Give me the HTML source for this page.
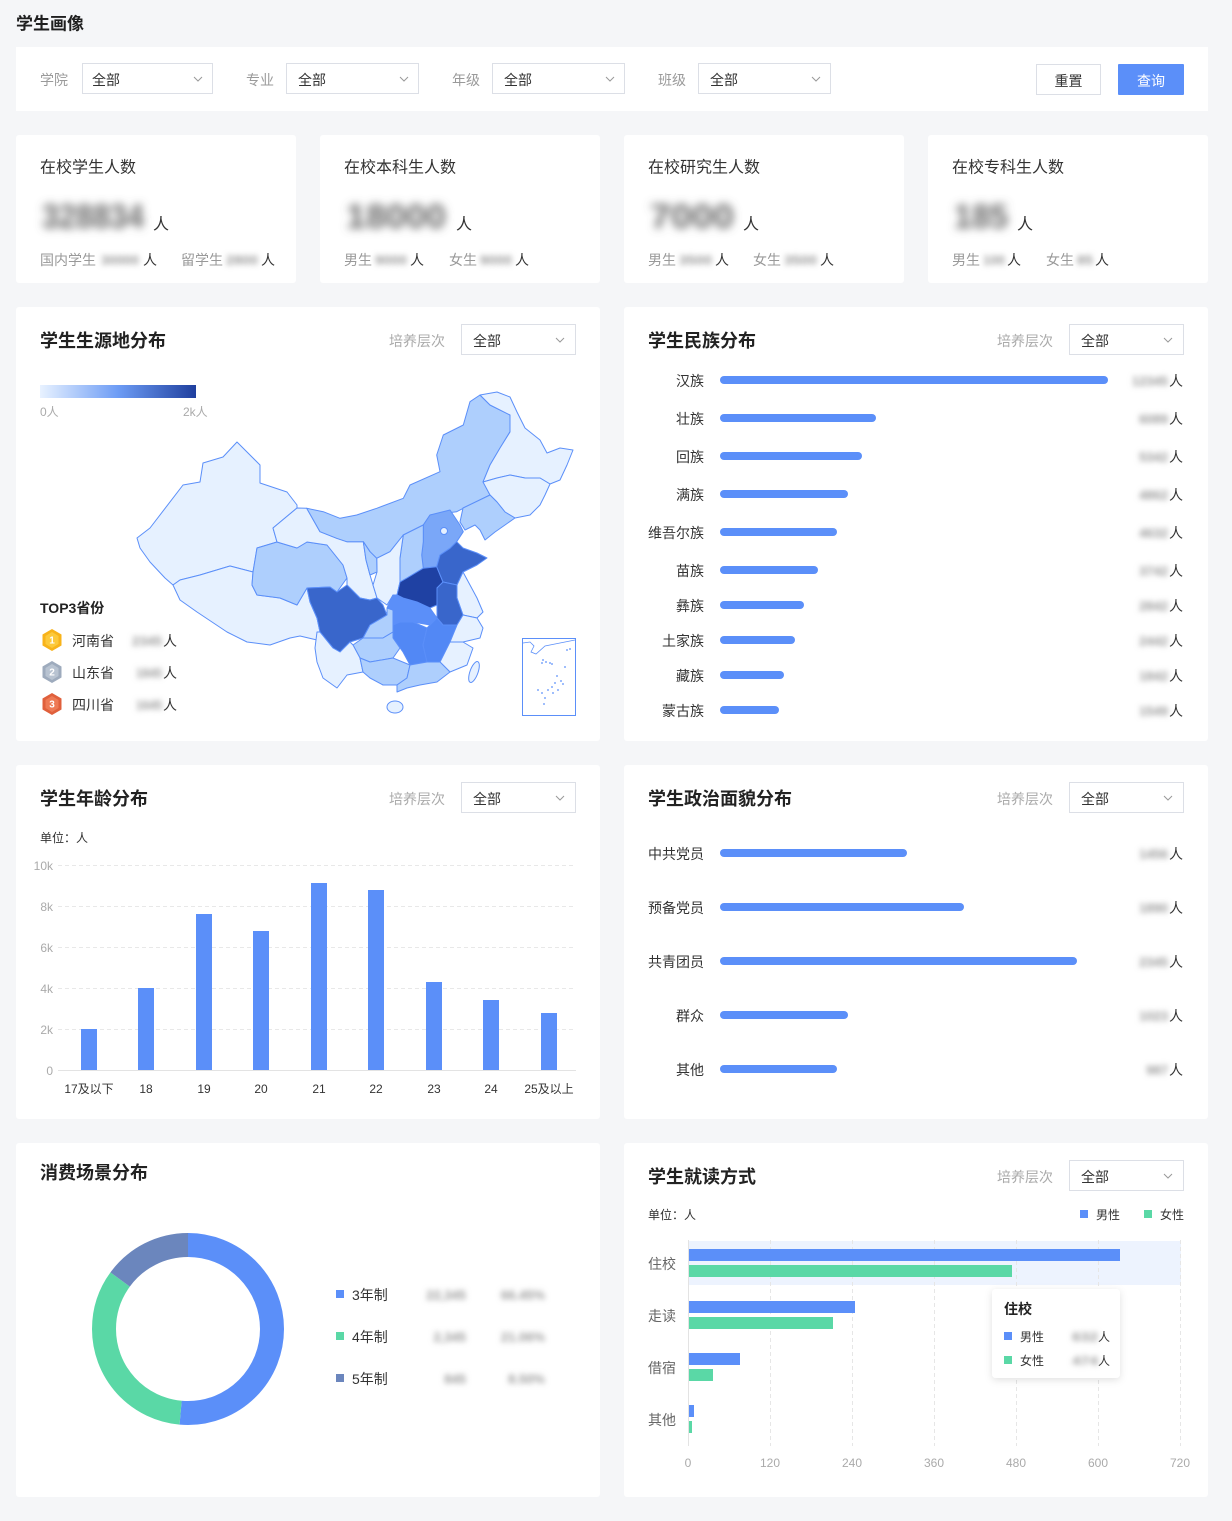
<!DOCTYPE html>
<html><head><meta charset="utf-8"><style>
html,body{margin:0;padding:0;background:#f5f6f8;}
svg{display:block;}
text{font-family:"Liberation Sans","Noto Sans CJK SC",sans-serif;dominant-baseline:central;transform:translateY(1px);}
</style></head><body>
<svg width="1232" height="1521" viewBox="0 0 1232 1521" xmlns="http://www.w3.org/2000/svg">
<defs>
<filter id="b4" x="-30%" y="-60%" width="160%" height="220%"><feGaussianBlur stdDeviation="4.5"/></filter>
<filter id="b2" x="-30%" y="-80%" width="160%" height="260%"><feGaussianBlur stdDeviation="2.8"/></filter>
<filter id="sh" x="-20%" y="-20%" width="140%" height="140%"><feDropShadow dx="0" dy="2" stdDeviation="4" flood-color="#000" flood-opacity="0.12"/></filter>
<linearGradient id="lg" x1="0" x2="1" y1="0" y2="0"><stop offset="0" stop-color="#e8f2ff"/><stop offset="0.5" stop-color="#6d9cf5"/><stop offset="1" stop-color="#1f3f9e"/></linearGradient>
</defs>
<rect x="0" y="0" width="1232" height="1521" fill="#f5f6f8"/>
<text x="16" y="23" font-size="17" font-weight="700" fill="#1f1f1f">学生画像</text>

<!-- filter bar -->
<rect x="16" y="47" width="1192" height="64" fill="#fff"/>
<g font-size="14" fill="#9a9a9a">
<text x="40" y="79">学院</text><text x="246" y="79">专业</text><text x="452" y="79">年级</text><text x="658" y="79">班级</text>
</g>
<g fill="#fff" stroke="#dcdfe6">
<rect x="82.5" y="63.5" width="130" height="30"/><rect x="286.5" y="63.5" width="132" height="30"/>
<rect x="492.5" y="63.5" width="132" height="30"/><rect x="698.5" y="63.5" width="132" height="30"/>
</g>
<g font-size="14" fill="#333"><text x="92" y="79">全部</text><text x="298" y="79">全部</text><text x="504" y="79">全部</text><text x="710" y="79">全部</text></g>
<g fill="none" stroke="#999" stroke-width="1">
<polyline points="194,77 198,81 202,77"/><polyline points="400,77 404,81 408,77"/><polyline points="606,77 610,81 614,77"/><polyline points="812,77 816,81 820,77"/>
</g>
<rect x="1036.5" y="64.5" width="64" height="30" fill="#fff" stroke="#dcdfe6"/>
<text x="1068.5" y="80" font-size="14" fill="#333" text-anchor="middle">重置</text>
<rect x="1118" y="64" width="66" height="31" fill="#5b8ff9" rx="1"/>
<text x="1151" y="80" font-size="14" fill="#fff" text-anchor="middle">查询</text>

<!-- stat cards -->
<g fill="#fff"><rect x="16" y="135" width="280" height="148" rx="3"/><rect x="320" y="135" width="280" height="148" rx="3"/><rect x="624" y="135" width="280" height="148" rx="3"/><rect x="928" y="135" width="280" height="148" rx="3"/></g>
<g font-size="16" fill="#333"><text x="40" y="167">在校学生人数</text><text x="344" y="167">在校本科生人数</text><text x="648" y="167">在校研究生人数</text><text x="952" y="167">在校专科生人数</text></g>
<g font-size="34" font-weight="700" fill="#666" filter="url(#b4)">
<text x="42" y="216" textLength="102" lengthAdjust="spacingAndGlyphs">328834</text>
<text x="346" y="216" textLength="100" lengthAdjust="spacingAndGlyphs">18000</text>
<text x="650" y="216" textLength="84" lengthAdjust="spacingAndGlyphs">7000</text>
<text x="954" y="216" textLength="54" lengthAdjust="spacingAndGlyphs">185</text>
</g>
<g font-size="16" fill="#333"><text x="153" y="224">人</text><text x="456" y="224">人</text><text x="743" y="224">人</text><text x="1017" y="224">人</text></g>
<g font-size="14" fill="#999"><text x="40" y="259">国内学生</text><text x="181" y="259">留学生</text><text x="344" y="259">男生</text><text x="449" y="259">女生</text><text x="648" y="259">男生</text><text x="753" y="259">女生</text><text x="952" y="259">男生</text><text x="1046" y="259">女生</text></g>
<g font-size="13" font-weight="700" fill="#999" filter="url(#b2)">
<text x="101" y="259" textLength="38" lengthAdjust="spacingAndGlyphs">30000</text>
<text x="226" y="259" textLength="32" lengthAdjust="spacingAndGlyphs">2800</text>
<text x="375" y="259" textLength="32" lengthAdjust="spacingAndGlyphs">9000</text>
<text x="480" y="259" textLength="32" lengthAdjust="spacingAndGlyphs">9000</text>
<text x="679" y="259" textLength="33" lengthAdjust="spacingAndGlyphs">3500</text>
<text x="784" y="259" textLength="33" lengthAdjust="spacingAndGlyphs">3500</text>
<text x="983" y="259" textLength="22" lengthAdjust="spacingAndGlyphs">100</text>
<text x="1077" y="259" textLength="16" lengthAdjust="spacingAndGlyphs">85</text>
</g>
<g font-size="14" fill="#333"><text x="143" y="259">人</text><text x="261" y="259">人</text><text x="410" y="259">人</text><text x="515" y="259">人</text><text x="715" y="259">人</text><text x="820" y="259">人</text><text x="1007" y="259">人</text><text x="1095" y="259">人</text></g>

<!-- panels -->
<g fill="#fff">
<rect x="16" y="307" width="584" height="434" rx="3"/><rect x="624" y="307" width="584" height="434" rx="3"/>
<rect x="16" y="765" width="584" height="354" rx="3"/><rect x="624" y="765" width="584" height="354" rx="3"/>
<rect x="16" y="1143" width="584" height="354" rx="3"/><rect x="624" y="1143" width="584" height="354" rx="3"/>
</g>
<g font-size="18" font-weight="700" fill="#222">
<text x="40" y="340">学生生源地分布</text><text x="648" y="340">学生民族分布</text>
<text x="40" y="798">学生年龄分布</text><text x="648" y="798">学生政治面貌分布</text>
<text x="40" y="1172">消费场景分布</text><text x="648" y="1176">学生就读方式</text>
</g>
<g font-size="14" fill="#aaa"><text x="389" y="340">培养层次</text><text x="997" y="340">培养层次</text><text x="389" y="798">培养层次</text><text x="997" y="798">培养层次</text><text x="997" y="1176">培养层次</text></g>
<g fill="#fff" stroke="#dcdfe6">
<rect x="461.5" y="324.5" width="114" height="30"/><rect x="1069.5" y="324.5" width="114" height="30"/>
<rect x="461.5" y="782.5" width="114" height="30"/><rect x="1069.5" y="782.5" width="114" height="30"/>
<rect x="1069.5" y="1160.5" width="114" height="30"/>
</g>
<g font-size="14" fill="#333"><text x="473" y="340">全部</text><text x="1081" y="340">全部</text><text x="473" y="798">全部</text><text x="1081" y="798">全部</text><text x="1081" y="1176">全部</text></g>
<g fill="none" stroke="#999"><polyline points="556,338 560,342 564,338"/><polyline points="1164,338 1168,342 1172,338"/><polyline points="556,796 560,800 564,796"/><polyline points="1164,796 1168,800 1172,796"/><polyline points="1164,1174 1168,1178 1172,1174"/></g>

<!-- map legend -->
<rect x="40" y="385" width="156" height="13" fill="url(#lg)"/>
<g font-size="12" fill="#aaa"><text x="40" y="411">0人</text><text x="183" y="411">2k人</text></g>

<!-- map -->
<g stroke="#5b8ff9" stroke-width="1" stroke-linejoin="round">
<polygon fill="#e6f1ff" points="137,538 150,528 183,485 200,482 203,463 223,457 237,442 243,448 260,465 260,483 287,492 297,505 297,508 273,528 277,542 257,548 253,572 230,566 200,575 180,580 173,585 165,578 150,562 140,548"/>
<polygon fill="#e6f1ff" points="173,585 180,580 200,575 230,566 253,572 252,585 257,595 280,598 297,605 307,588 310,602 317,618 320,632 317,640 300,636 290,638 270,645 247,642 227,632 197,612 180,600"/>
<polygon fill="#aecffd" points="252,585 257,595 280,598 297,605 307,588 330,587 337,592 347,578 343,565 327,545 307,542 297,548 277,542 257,548 253,572"/>
<polygon fill="#e6f1ff" points="273,528 297,508 306.7,508.3 320,531.7 336.7,538.3 346.7,541.7 363.3,541.7 366,560 370,575 373,585 377,598 370,600 360,598 347,585 347,578 343,565 327,545 307,542 297,548 277,542"/>
<polygon fill="#aecffd" points="306.7,508.3 323.3,511.7 340,518.3 356.7,515 376.7,508.3 403.3,498.3 410,485 440,471.7 436.7,455 443.3,435 463.3,425 470,401.7 480,395 490,405 510,415 510,431.7 500,448.3 490,465 483.3,481.7 490,495 463.3,508.3 456.7,511.7 430,515 423.3,525 403.3,535 390,551.7 376.7,558.3 370,551.7 363.3,541.7 346.7,541.7 336.7,538.3 320,531.7"/>
<polygon fill="#e6f1ff" points="480,395 497,392 510,397 517,412 525,428 540,440 547,453 560,448 573,450 567,465 560,480 550,484 540,478 525,478 510,475 497,478 483,482 490,465 500,448 510,432 510,415 490,405"/>
<polygon fill="#e6f1ff" points="483,482 497,478 510,475 525,478 540,478 550,484 545,495 540,505 530,515 515,518 505,512 497,502 490,495"/>
<polygon fill="#aecffd" points="463,508 490,495 497,502 505,512 515,518 505,525 495,532 485,540 480,530 475,525 465,530 460,522"/>
<polygon fill="#7aa7f8" points="423.3,525 430,515 450,510 460,525 463.3,531.7 456.7,541.7 450,548.3 440,555 436.7,566.7 423.3,568.3 421.7,555 423.3,541.7"/>
<ellipse cx="444" cy="531" rx="3.5" ry="3.5" fill="#e6f1ff"/>
<polygon fill="#aecffd" points="403.3,535 423.3,525 423.3,541.7 421.7,555 423.3,568.3 407,578 400,582 400,558"/>
<polygon fill="#e6f1ff" points="390,551.7 403.3,535 400,558 400,582 397,595 393,595 387,605 377,598 373,585 377,572 376.7,558.3"/>
<polygon fill="#aecffd" points="363.3,541.7 370,551.7 376.7,558.3 377,572 370,575 366,560"/>
<polygon fill="#3966cb" points="307,588 330,587 337,592 347,585 360,598 370,600 377,598 383,605 387,615 370,625 363,638 350,642 340,652 333,648 320,632 317,618 310,602"/>
<polygon fill="#aecffd" points="370,625 387,615 387,608 393,610 393,632 383,638 370,638 363,638"/>
<polygon fill="#5b8ff9" points="387,608 393,595 397,595 403,598 417,602 430,608 437,618 430,625 413,622 400,622 393,625 393,610"/>
<polygon fill="#1f41a3" points="400,582 407,578 423,568.3 436.7,566.7 443,582 437,588 437,605 430,608 417,602 403,598 397,595"/>
<polygon fill="#3966cb" points="436.7,566.7 440,555 450,548.3 456.7,541.7 463,548 477,553 487,558 477,565 463,572 457,585 443,582"/>
<polygon fill="#e6f1ff" points="457,585 463,572 470,585 477,598 483,612 477,618 463,615 457,598"/>
<polygon fill="#3966cb" points="443,582 457,585 457,598 463,615 457,625 443,625 437,618 437,605 437,588"/>
<polygon fill="#5288f5" points="393,625 400,622 413,622 427,628 423,645 427,662 410,665 403,652 393,638"/>
<polygon fill="#5288f5" points="427,628 437,618 443,625 457,625 450,642 440,662 427,662 423,645"/>
<polygon fill="#e6f1ff" points="457,625 463,615 477,618 483,628 480,638 463,642 450,642"/>
<polygon fill="#e6f1ff" points="450,642 463,642 473,648 467,665 450,672 440,662"/>
<polygon fill="#aecffd" points="353,645 363,638 370,638 383,638 393,632 393,638 400,648 393,658 370,662 360,658"/>
<polygon fill="#e6f1ff" points="317,632 320,632 333,648 340,652 350,642 353,645 360,658 363,672 347,675 337,688 323,678 317,662 315,648"/>
<polygon fill="#aecffd" points="360,658 370,662 393,658 410,665 407,678 397,685 383,685 370,678 363,672"/>
<polygon fill="#aecffd" points="410,665 427,662 440,662 450,672 437,682 420,685 407,688 397,692 397,685 407,678"/>
<ellipse cx="395" cy="707" rx="8" ry="6" fill="#e6f1ff"/>
<ellipse cx="474" cy="672" rx="4" ry="11" fill="#e6f1ff" transform="rotate(20 474 672)"/>
</g>
<rect x="522.5" y="638.5" width="53" height="77" fill="#fff" stroke="#5b8ff9"/>
<path d="M523,643 L530,642 L534,646 L531,652 L536,654 L545,646 L560,643 L575,640" fill="none" stroke="#5b8ff9" stroke-width="0.8"/>
<g fill="#5b8ff9"><circle cx="543" cy="660" r="0.9"/><circle cx="546" cy="662" r="0.9"/><circle cx="542" cy="663" r="0.9"/><circle cx="550" cy="663" r="0.9"/><circle cx="552" cy="664" r="0.9"/><circle cx="565" cy="667" r="0.9"/><circle cx="557" cy="676" r="0.9"/><circle cx="561" cy="681" r="0.9"/><circle cx="563" cy="684" r="0.9"/><circle cx="555" cy="683" r="0.9"/><circle cx="552" cy="687" r="0.9"/><circle cx="548" cy="690" r="0.9"/><circle cx="542" cy="693" r="0.9"/><circle cx="538" cy="690" r="0.9"/><circle cx="545" cy="698" r="0.9"/><circle cx="553" cy="693" r="0.9"/><circle cx="558" cy="690" r="0.9"/><circle cx="544" cy="704" r="0.9"/><circle cx="570" cy="649" r="0.9"/><circle cx="567" cy="650" r="0.9"/></g>

<!-- top3 -->
<text x="40" y="607" font-size="14" fill="#222" font-weight="600">TOP3省份</text>
<polygon points="52,629 61.5,634.5 61.5,645.5 52,651 42.5,645.5 42.5,634.5" fill="#f8b31a"/>
<polygon points="52,632 58.5,636 58.5,644 52,648 45.5,644 45.5,636" fill="#fcc93a"/>
<text x="52" y="640" font-size="10" fill="#fff" text-anchor="middle" font-weight="700">1</text>
<polygon points="52,661 61.5,666.5 61.5,677.5 52,683 42.5,677.5 42.5,666.5" fill="#9eabbd"/>
<polygon points="52,664 58.5,668 58.5,676 52,680 45.5,676 45.5,668" fill="#b8c3d1"/>
<text x="52" y="672" font-size="10" fill="#fff" text-anchor="middle" font-weight="700">2</text>
<polygon points="52,693 61.5,698.5 61.5,709.5 52,715 42.5,709.5 42.5,698.5" fill="#e0603c"/>
<polygon points="52,696 58.5,700 58.5,708 52,712 45.5,708 45.5,700" fill="#ee7a55"/>
<text x="52" y="704" font-size="10" fill="#fff" text-anchor="middle" font-weight="700">3</text>
<g font-size="14" fill="#333"><text x="72" y="640">河南省</text><text x="72" y="672">山东省</text><text x="72" y="704">四川省</text><text x="163" y="640">人</text><text x="163" y="672">人</text><text x="163" y="704">人</text></g>
<g font-size="13" font-weight="700" fill="#999" filter="url(#b2)"><text x="132" y="640" textLength="30" lengthAdjust="spacingAndGlyphs">2345</text><text x="136" y="672" textLength="26" lengthAdjust="spacingAndGlyphs">1845</text><text x="136" y="704" textLength="26" lengthAdjust="spacingAndGlyphs">1645</text></g>

<!-- ethnic -->
<g font-size="14" fill="#333" text-anchor="end">
<text x="704" y="380">汉族</text><text x="704" y="418">壮族</text><text x="704" y="456">回族</text><text x="704" y="494">满族</text><text x="704" y="532">维吾尔族</text><text x="704" y="570">苗族</text><text x="704" y="605">彝族</text><text x="704" y="640">土家族</text><text x="704" y="675">藏族</text><text x="704" y="710">蒙古族</text>
</g>
<g fill="#5b8ff9">
<rect x="720" y="376" width="388" height="8" rx="4"/><rect x="720" y="414" width="156" height="8" rx="4"/><rect x="720" y="452" width="142" height="8" rx="4"/><rect x="720" y="490" width="128" height="8" rx="4"/><rect x="720" y="528" width="117" height="8" rx="4"/><rect x="720" y="566" width="98" height="8" rx="4"/><rect x="720" y="601" width="84" height="8" rx="4"/><rect x="720" y="636" width="75" height="8" rx="4"/><rect x="720" y="671" width="64" height="8" rx="4"/><rect x="720" y="706" width="59" height="8" rx="4"/>
</g>
<g font-size="13" font-weight="700" fill="#999" filter="url(#b2)" text-anchor="end">
<text x="1168" y="380">12345</text><text x="1168" y="418">6089</text><text x="1168" y="456">5342</text><text x="1168" y="494">4862</text><text x="1168" y="532">4632</text><text x="1168" y="570">3742</text><text x="1168" y="605">2842</text><text x="1168" y="640">2442</text><text x="1168" y="675">1842</text><text x="1168" y="710">1549</text>
</g>
<g font-size="14" fill="#333"><text x="1169" y="380">人</text><text x="1169" y="418">人</text><text x="1169" y="456">人</text><text x="1169" y="494">人</text><text x="1169" y="532">人</text><text x="1169" y="570">人</text><text x="1169" y="605">人</text><text x="1169" y="640">人</text><text x="1169" y="675">人</text><text x="1169" y="710">人</text></g>

<!-- age chart -->
<text x="40" y="837" font-size="12" fill="#333">单位：人</text>
<g font-size="12" fill="#aaa" text-anchor="end"><text x="53" y="865">10k</text><text x="53" y="906">8k</text><text x="53" y="947">6k</text><text x="53" y="988">4k</text><text x="53" y="1029">2k</text><text x="53" y="1070">0</text></g>
<g stroke="#e8e8e8" stroke-dasharray="4 3"><line x1="58" y1="865.5" x2="576" y2="865.5"/><line x1="58" y1="906.5" x2="576" y2="906.5"/><line x1="58" y1="947.5" x2="576" y2="947.5"/><line x1="58" y1="988.5" x2="576" y2="988.5"/><line x1="58" y1="1029.5" x2="576" y2="1029.5"/></g>
<line x1="58" y1="1070.5" x2="576" y2="1070.5" stroke="#e3e3e3"/>
<g fill="#5b8ff9">
<rect x="81" y="1029" width="16" height="41"/><rect x="138" y="988" width="16" height="82"/><rect x="196" y="914" width="16" height="156"/><rect x="253" y="931" width="16" height="139"/><rect x="311" y="883" width="16" height="187"/><rect x="368" y="890" width="16" height="180"/><rect x="426" y="982" width="16" height="88"/><rect x="483" y="1000" width="16" height="70"/><rect x="541" y="1013" width="16" height="57"/>
</g>
<g font-size="12" fill="#333" text-anchor="middle"><text x="89" y="1088">17及以下</text><text x="146" y="1088">18</text><text x="204" y="1088">19</text><text x="261" y="1088">20</text><text x="319" y="1088">21</text><text x="376" y="1088">22</text><text x="434" y="1088">23</text><text x="491" y="1088">24</text><text x="549" y="1088">25及以上</text></g>

<!-- political -->
<g font-size="14" fill="#333" text-anchor="end"><text x="704" y="853">中共党员</text><text x="704" y="907">预备党员</text><text x="704" y="961">共青团员</text><text x="704" y="1015">群众</text><text x="704" y="1069">其他</text></g>
<g fill="#5b8ff9"><rect x="720" y="849" width="187" height="8" rx="4"/><rect x="720" y="903" width="244" height="8" rx="4"/><rect x="720" y="957" width="357" height="8" rx="4"/><rect x="720" y="1011" width="128" height="8" rx="4"/><rect x="720" y="1065" width="117" height="8" rx="4"/></g>
<g font-size="13" font-weight="700" fill="#999" filter="url(#b2)" text-anchor="end"><text x="1168" y="853">1456</text><text x="1168" y="907">1890</text><text x="1168" y="961">2345</text><text x="1168" y="1015">1023</text><text x="1168" y="1069">987</text></g>
<g font-size="14" fill="#333"><text x="1169" y="853">人</text><text x="1169" y="907">人</text><text x="1169" y="961">人</text><text x="1169" y="1015">人</text><text x="1169" y="1069">人</text></g>

<!-- donut -->
<g fill="none" stroke-width="24" transform="rotate(-90 188 1329)">
<circle cx="188" cy="1329" r="84" stroke="#5b8ff9" stroke-dasharray="271.2 600"/>
<circle cx="188" cy="1329" r="84" stroke="#5ad8a6" stroke-dasharray="177.4 600" stroke-dashoffset="-271.2"/>
<circle cx="188" cy="1329" r="84" stroke="#6b86bd" stroke-dasharray="79.2 600" stroke-dashoffset="-448.6"/>
</g>
<rect x="336" y="1290" width="8" height="8" fill="#5b8ff9"/><rect x="336" y="1332" width="8" height="8" fill="#5ad8a6"/><rect x="336" y="1374" width="8" height="8" fill="#6b86bd"/>
<g font-size="14" fill="#333"><text x="352" y="1294">3年制</text><text x="352" y="1336">4年制</text><text x="352" y="1378">5年制</text></g>
<g font-size="13" font-weight="700" fill="#999" filter="url(#b2)" text-anchor="end"><text x="466" y="1294">22,345</text><text x="545" y="1294">66.45%</text><text x="466" y="1336">2,345</text><text x="545" y="1336">21.06%</text><text x="466" y="1378">845</text><text x="545" y="1378">8.50%</text></g>

<!-- study mode -->
<text x="648" y="1214" font-size="12" fill="#333">单位：人</text>
<rect x="1080" y="1210" width="8" height="8" fill="#5b8ff9"/><text x="1096" y="1214" font-size="12" fill="#333">男性</text>
<rect x="1144" y="1210" width="8" height="8" fill="#5ad8a6"/><text x="1160" y="1214" font-size="12" fill="#333">女性</text>
<rect x="689" y="1241" width="492" height="44" fill="#edf3fe"/>
<g stroke="#e6e6e6" stroke-dasharray="4 3"><line x1="770.5" y1="1240" x2="770.5" y2="1446"/><line x1="852.5" y1="1240" x2="852.5" y2="1446"/><line x1="934.5" y1="1240" x2="934.5" y2="1446"/><line x1="1016.5" y1="1240" x2="1016.5" y2="1446"/><line x1="1098.5" y1="1240" x2="1098.5" y2="1446"/><line x1="1180.5" y1="1240" x2="1180.5" y2="1446"/></g>
<line x1="688.5" y1="1240" x2="688.5" y2="1446" stroke="#e3e3e3"/>
<g fill="#5b8ff9"><rect x="689" y="1249" width="431" height="12"/><rect x="689" y="1301" width="166" height="12"/><rect x="689" y="1353" width="51" height="12"/><rect x="689" y="1405" width="5" height="12"/></g>
<g fill="#5ad8a6"><rect x="689" y="1265" width="323" height="12"/><rect x="689" y="1317" width="144" height="12"/><rect x="689" y="1369" width="24" height="12"/><rect x="689" y="1421" width="3" height="12"/></g>
<g font-size="14" fill="#666"><text x="648" y="1263">住校</text><text x="648" y="1315">走读</text><text x="648" y="1367">借宿</text><text x="648" y="1419">其他</text></g>
<g font-size="12" fill="#aaa" text-anchor="middle"><text x="688" y="1462">0</text><text x="770" y="1462">120</text><text x="852" y="1462">240</text><text x="934" y="1462">360</text><text x="1016" y="1462">480</text><text x="1098" y="1462">600</text><text x="1180" y="1462">720</text></g>
<rect x="992" y="1289" width="128" height="89" rx="4" fill="#fff" filter="url(#sh)"/>
<text x="1004" y="1308" font-size="14" fill="#222" font-weight="600">住校</text>
<rect x="1004" y="1332" width="8" height="8" fill="#5b8ff9"/><rect x="1004" y="1356" width="8" height="8" fill="#5ad8a6"/>
<g font-size="12" fill="#333"><text x="1020" y="1336">男性</text><text x="1020" y="1360">女性</text><text x="1098" y="1336">人</text><text x="1098" y="1360">人</text></g>
<g font-size="12" font-weight="700" fill="#999" filter="url(#b2)"><text x="1072" y="1336" textLength="26" lengthAdjust="spacingAndGlyphs">632</text><text x="1072" y="1360" textLength="26" lengthAdjust="spacingAndGlyphs">474</text></g>
</svg>
</body></html>
